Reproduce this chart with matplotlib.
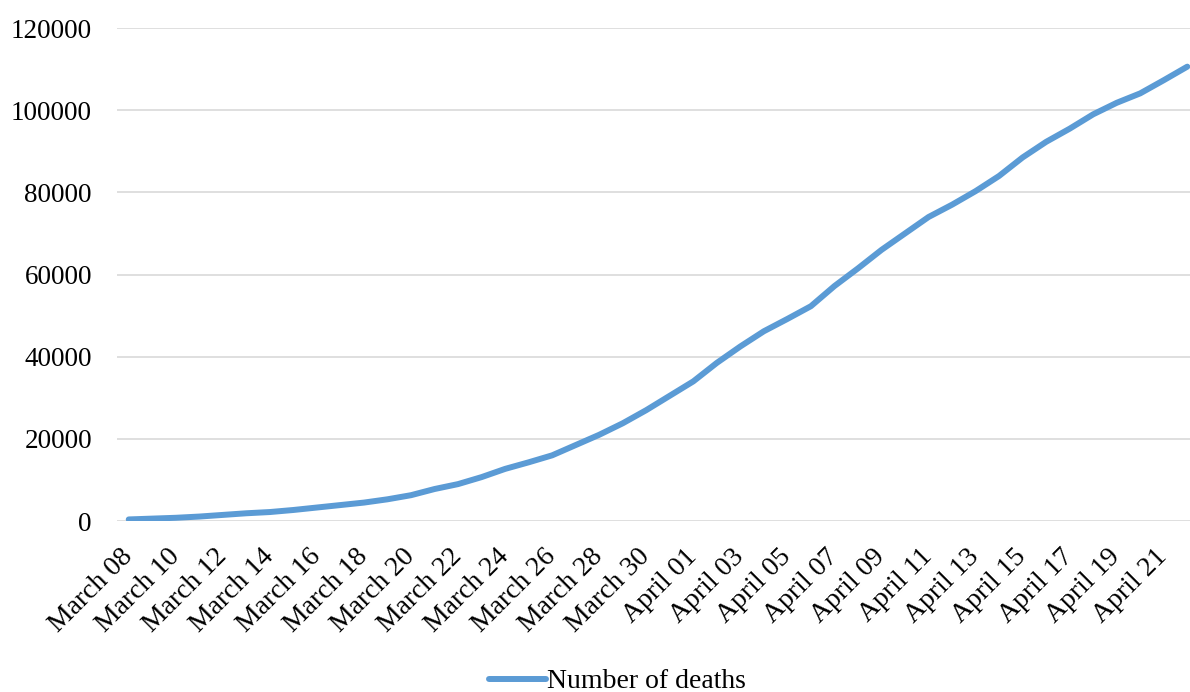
import numpy as np
import matplotlib.pyplot as plt
import matplotlib.transforms as mtransforms

# cumulative deaths, one value per day from March 08 to April 22
days = ['March %02d' % d for d in range(8, 32)] + ['April %02d' % d for d in range(1, 23)]
deaths = [400, 600, 800, 1100, 1500, 1900, 2200, 2700, 3300, 3900,
          4500, 5300, 6300, 7800, 9000, 10700, 12700, 14300, 16000, 18500,
          21000, 23800, 27000, 30500, 34000, 38500, 42500, 46200, 49200, 52300,
          57200, 61500, 66000, 70000, 74000, 77000, 80300, 84000, 88500, 92300,
          95500, 99000, 101800, 104100, 107300, 110600]
yticks = [0, 20000, 40000, 60000, 80000, 100000, 120000]

plt.rcParams['font.family'] = ['Liberation Serif', 'DejaVu Serif']

fig = plt.figure(figsize=(11.9, 6.92), dpi=100)
ax = fig.add_axes([0.0983, 0.247, 0.9093, 0.7125])

x = np.arange(len(days))
ax.plot(x, deaths, color='#5B9BD5', linewidth=4.3, solid_capstyle='round',
        solid_joinstyle='round', label='Number of deaths')

ax.set_xlim(-0.5, len(days) - 0.5)
ax.set_ylim(0, 120000)
ax.set_yticks(yticks)
ax.set_yticklabels([str(v) for v in yticks], fontsize=19.5)
ax.set_xticks(x[::2])
ax.set_xticklabels(days[::2], fontsize=20, rotation=45, ha='right', va='center',
                   rotation_mode='anchor')
# nudge the slanted date labels a little to the left
shift = mtransforms.ScaledTranslation(-10 / 100, 0, fig.dpi_scale_trans)
for lab in ax.get_xticklabels():
    lab.set_transform(lab.get_transform() + shift)
ax.tick_params(axis='both', length=0)
ax.tick_params(axis='y', pad=18)
ax.tick_params(axis='x', pad=23)
ax.grid(axis='y', color='#D9D9D9', linewidth=1.2)
ax.set_axisbelow(True)
for s in ax.spines.values():
    s.set_visible(False)

fig.legend(loc='center', bbox_to_anchor=(0.519, 0.015), frameon=False,
           fontsize=20, handlelength=2.05, handletextpad=0.05)

fig.savefig('out.png', dpi=100)
